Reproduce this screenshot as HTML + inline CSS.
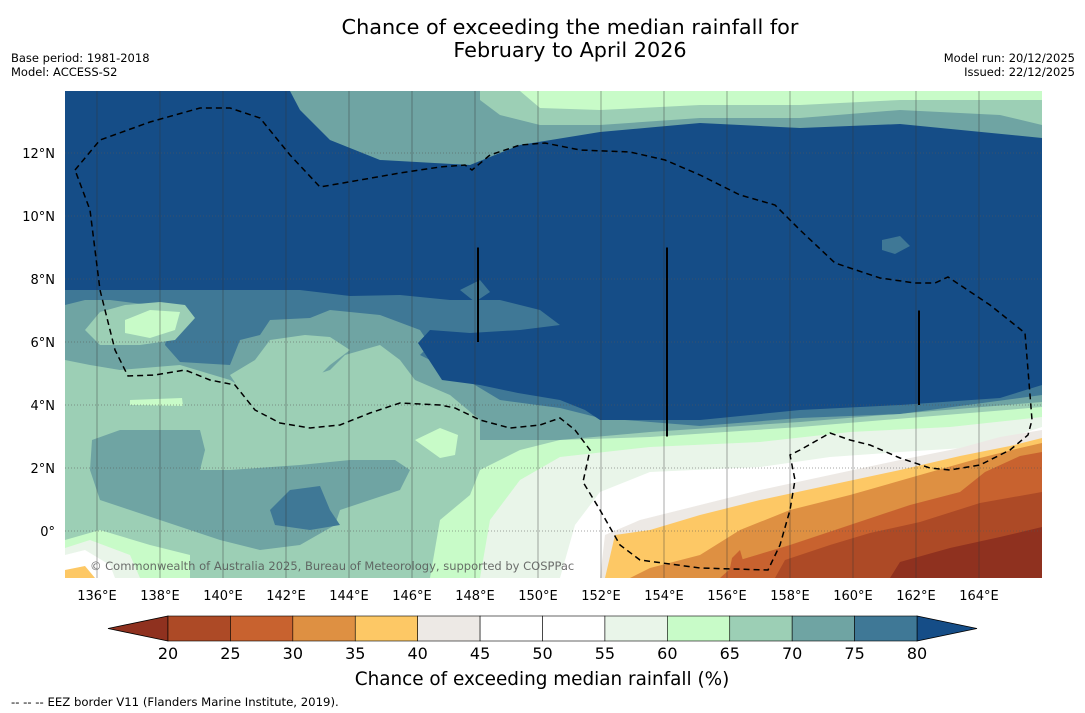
<!DOCTYPE html>
<html><head><meta charset="utf-8">
<style>
body{margin:0;background:#fff;width:1085px;height:713px;overflow:hidden;font-family:"DejaVu Sans","Liberation Sans",sans-serif;}
svg{display:block}
</style></head>
<body>
<svg id="chart" width="1085" height="713" viewBox="0 0 1085 713" font-family="DejaVu Sans, Liberation Sans, sans-serif">
<text x="570" y="34" text-anchor="middle" font-size="20.8">Chance of exceeding the median rainfall for</text>
<text x="570" y="57" text-anchor="middle" font-size="20.8">February to April 2026</text>
<text x="11" y="62" font-size="11.5">Base period: 1981-2018</text>
<text x="11" y="76" font-size="11.5">Model: ACCESS-S2</text>
<text x="1075" y="62" font-size="11.5" text-anchor="end">Model run: 20/12/2025</text>
<text x="1075" y="76" font-size="11.5" text-anchor="end">Issued: 22/12/2025</text>
<defs><clipPath id="mapclip"><rect x="65" y="91" width="977" height="487"/></clipPath></defs>
<g id="map" clip-path="url(#mapclip)"></g>
<g id="axes"></g>
<g id="cbar"></g>
<text x="542" y="685" text-anchor="middle" font-size="18.4">Chance of exceeding median rainfall (%)</text>
<text x="11" y="706" font-size="11.7">--  --  -- EEZ border V11 (Flanders Marine Institute, 2019).</text>
</svg>
<script>
const levels=[20,25,30,35,40,45,50,55,60,65,70,75,80];
const bandColors=["#ad4a26","#c8622f","#de9042","#fdc865","#ede9e5","#ffffff","#ffffff","#e9f5e9","#c8fbc8","#9ccfb5","#6fa4a3","#3f7896"];
const underColor="#8f311f", overColor="#154d87";
const lonTicks=[136,138,140,142,144,146,148,150,152,154,156,158,160,162,164];
const latTicks=[0,2,4,6,8,10,12];
const NS="http://www.w3.org/2000/svg";
const lonX=l=>97+(l-136)*31.5;
const latY=l=>531-l*31.5;
const map=document.getElementById('map');
function mk(tag,attrs,parent){const e=document.createElementNS(NS,tag);for(const k in attrs)e.setAttribute(k,attrs[k]);parent.appendChild(e);return e;}
const regions=[
 ["#9ccfb5","65,91 1042,91 1042,578 65,578"],
 ["#3f7896","290,91 1042,91 1042,150 900,138 800,142 700,138 600,145 520,158 470,176 380,173 330,152 300,110"],
 ["#6fa4a3","290,91 1042,91 1042,140 900,128 800,132 700,128 600,135 520,150 470,168 380,165 330,145 300,110"],
 ["#9ccfb5","480,91 1042,91 1042,125 1000,115 900,110 800,118 700,118 600,125 540,125 500,115 480,100"],
 ["#c8fbc8","520,91 1042,91 1042,100 900,100 800,105 700,105 600,110 540,108"],
 ["#6fa4a3","65,290 65,360 90,365 120,370 180,365 230,380 250,392 280,395 300,380 330,370 345,355 380,345 400,360 415,380 450,395 480,420 480,440 560,440 650,432 800,422 1042,402 1042,280"],
 ["#3f7896","65,290 65,305 85,300 110,300 150,305 170,320 165,345 180,362 230,365 240,340 260,335 270,320 310,318 330,310 380,315 420,330 430,345 420,355 450,370 500,400 560,408 600,418 700,426 800,418 900,414 1042,395 1042,280"],
 ["#9ccfb5","270,340 305,335 330,337 350,350 330,365 315,380 300,400 270,400 240,390 230,375 255,360"],
 ["#9ccfb5","85,330 100,312 125,305 160,302 185,305 195,318 175,340 140,345 100,345"],
 ["#c8fbc8","125,320 150,310 180,312 175,330 150,338 125,333"],
 ["#154d87","65,91 290,91 300,110 330,140 380,160 470,165 520,145 600,132 700,123 800,128 900,124 1042,138 1042,385 1000,398 900,405 800,410 700,420 600,420 585,410 560,400 518,393 480,385 442,380 418,343 430,330 470,333 520,330 560,325 540,310 500,300 450,300 400,295 350,296 300,290 65,290"],
 ["#3f7896","460,290 480,280 490,292 475,302"],
 ["#3f7896","882,240 900,236 910,246 895,254 882,250"],
 ["#6fa4a3","92,440 120,430 200,430 205,450 200,470 230,470 300,465 350,460 395,460 410,470 400,490 370,500 340,510 335,525 300,545 260,550 220,540 190,530 160,520 130,510 100,500 90,470"],
 ["#3f7896","270,510 290,490 320,486 330,510 340,525 310,530 275,525"],
 ["#c8fbc8","415,440 440,428 458,435 455,455 440,458"],
 ["#c8fbc8","130,400 182,398 183,406 130,405"],
 ["#c8fbc8","430,578 440,520 470,495 480,470 520,450 560,440 650,437 800,427 1042,407 1042,578"],
 ["#c8fbc8","65,540 100,530 150,545 190,555 190,578 65,578"],
 ["#e9f5e9","480,578 490,520 520,480 560,457 650,447 760,442 850,432 950,427 1042,417 1042,578"],
 ["#e9f5e9","65,548 90,540 130,555 140,578 65,578"],
 ["#ffffff","560,578 575,525 600,492 650,472 760,467 830,457 900,452 980,447 1042,427 1042,578"],
 ["#ffffff","65,555 85,550 110,565 115,578 65,578"],
 ["#ede9e5","600,578 605,535 640,520 700,505 760,490 830,475 900,460 960,448 1000,437 1042,430 1042,578"],
 ["#fdc865","605,578 615,535 650,530 700,515 760,500 830,485 900,470 960,456 1010,446 1042,438 1042,578"],
 ["#fdc865","65,570 85,566 95,578 65,578"],
 ["#de9042","630,578 650,568 700,555 740,530 790,510 850,495 920,475 980,458 1020,448 1042,443 1042,578"],
 ["#c8622f","720,578 740,560 790,545 850,525 910,505 960,492 985,472 1020,456 1042,452 1042,578"],
 ["#c8622f","728,578 732,558 740,550 748,578"],
 ["#ad4a26","775,578 785,560 830,545 870,533 920,522 980,503 1042,492 1042,578"],
 ["#8f311f","890,578 900,562 950,548 1000,537 1042,527 1042,578"]
];
regions.forEach((r,i)=>{
 const p=mk('polygon',{points:r[1],fill:r[0]},map);
 
 
});
lonTicks.forEach(l=>{const ln=mk('line',{x1:lonX(l),x2:lonX(l),y1:91,y2:578,stroke:"#333","stroke-width":0.7,"stroke-opacity":0.6},map);
 
 });
latTicks.forEach(l=>{const ln=mk('line',{x1:65,x2:1042,y1:latY(l),y2:latY(l),stroke:"#555","stroke-width":0.8,"stroke-dasharray":"1,2","stroke-opacity":0.7},map);
 
 });
const eez="75,170 100,140 150,122 200,108 230,108 260,118 290,155 320,187 360,180 400,173 440,167 465,165 472,170 490,155 520,145 545,143 580,150 630,152 665,160 700,175 740,195 775,205 800,230 835,263 880,278 915,283 935,283 948,277 990,305 1025,333 1028,370 1032,420 1028,435 1010,450 980,465 950,470 930,468 900,458 870,445 850,440 830,433 800,450 790,455 795,480 790,510 780,545 768,570 700,568 640,560 620,545 600,510 583,482 590,450 575,430 560,418 540,425 510,428 480,420 455,408 440,405 400,403 370,413 340,425 310,428 280,423 255,410 235,385 210,380 185,370 155,375 128,376 115,350 100,290 90,210 75,170";
const ez=mk('polyline',{points:eez,fill:"none",stroke:"#000","stroke-width":1.5,"stroke-dasharray":"6,4"},map);


[[148,9,6],[154,9,3],[162,7,4]].forEach(v=>{const ln=mk('line',{x1:lonX(v[0])+3,x2:lonX(v[0])+3,y1:latY(v[1]),y2:latY(v[2]),stroke:"#000","stroke-width":2},map);
 
 });
const wm=mk('text',{x:90,y:570,"font-size":11.5,fill:"#555","fill-opacity":0.85},map);
wm.textContent="© Commonwealth of Australia 2025, Bureau of Meteorology, supported by COSPPac";


const axes=document.getElementById('axes');
lonTicks.forEach(l=>{const t=mk('text',{x:lonX(l),y:600,"text-anchor":"middle","font-size":13},axes);t.textContent=l+"°E";
 
 });
latTicks.forEach(l=>{const t=mk('text',{x:55,y:latY(l)+5,"text-anchor":"end","font-size":13},axes);t.textContent=l===0?"0°":l+"°N";
 
 });
const cb=document.getElementById('cbar');
const cbX=v=>168+(v-20)*(749/60);
const cy=616,ch=25;
const lt=mk('polygon',{points:`108,${cy+ch/2} ${cbX(20)},${cy} ${cbX(20)},${cy+ch}`,fill:underColor,stroke:"#000","stroke-width":0.8},cb);


const rt=mk('polygon',{points:`977,${cy+ch/2} ${cbX(80)},${cy} ${cbX(80)},${cy+ch}`,fill:overColor,stroke:"#000","stroke-width":0.8},cb);


bandColors.forEach((c,i)=>{const r=mk('rect',{x:cbX(levels[i]),y:cy,width:cbX(levels[i+1])-cbX(levels[i]),height:ch,fill:c,stroke:"#000","stroke-width":0.6},cb);
 
 });
levels.forEach(v=>{const t=mk('text',{x:cbX(v),y:659,"text-anchor":"middle","font-size":16},cb);t.textContent=v;
 
 });
</script>
</body></html>
